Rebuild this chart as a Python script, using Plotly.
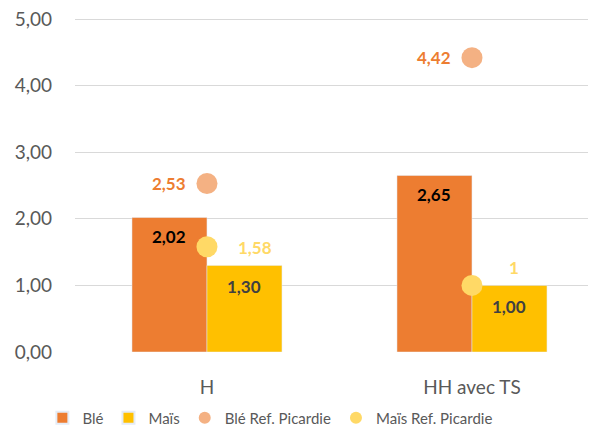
import plotly.graph_objects as go

categories = ["H", "HH avec TS"]
ble = [2.02, 2.65]
mais = [1.30, 1.00]
ble_ref = [2.53, 4.42]
mais_ref = [1.58, 1.00]
mais_ref_labels = ["1,58", "1"]
y_ticks = [0, 1, 2, 3, 4, 5]

C_BLE = "#ED7D31"
C_MAIS = "#FFC000"
C_BLE_REF = "#F4B183"
C_MAIS_REF = "#FFD966"
FONT = "Lato"

x = list(range(len(categories)))
bar_w = 0.283

fig = go.Figure()
fig.add_trace(go.Bar(x=x, y=ble, name="Blé", marker_color=C_BLE, width=bar_w, offset=-bar_w))
fig.add_trace(go.Bar(x=x, y=mais, name="Maïs", marker_color=C_MAIS, width=bar_w, offset=0))
fig.add_trace(go.Scatter(x=x, y=ble_ref, name="Blé Ref. Picardie", mode="markers",
                         marker=dict(color=C_BLE_REF, size=21)))
fig.add_trace(go.Scatter(x=x, y=mais_ref, name="Maïs Ref. Picardie", mode="markers",
                         marker=dict(color=C_MAIS_REF, size=21)))

ann = []
for i in x:
    ann.append(dict(x=i - bar_w / 2, y=ble[i], xref="x", yref="y", text="<b>%s</b>" % f"{ble[i]:.2f}".replace(".", ","),
                    showarrow=False, yanchor="middle", yshift=-19, font=dict(family=FONT, size=17, color="#000000")))
    ann.append(dict(x=i + bar_w / 2, y=mais[i], xref="x", yref="y", text="<b>%s</b>" % f"{mais[i]:.2f}".replace(".", ","),
                    showarrow=False, yanchor="middle", yshift=-21, font=dict(family=FONT, size=17, color="#404040")))
    ann.append(dict(x=i, y=ble_ref[i], xref="x", yref="y", text="<b>%s</b>" % f"{ble_ref[i]:.2f}".replace(".", ","),
                    showarrow=False, xanchor="right", yanchor="middle", xshift=-19,
                    font=dict(family=FONT, size=17, color=C_BLE)))
mais_shift = [(29, -1), (35, 18)]
for i in x:
    dx, dy = mais_shift[i]
    ann.append(dict(x=i, y=mais_ref[i], xref="x", yref="y", text="<b>%s</b>" % mais_ref_labels[i],
                    showarrow=False, xanchor="left", yanchor="middle", xshift=dx, yshift=dy,
                    font=dict(family=FONT, size=17, color=C_MAIS_REF)))

fig.update_layout(
    width=596, height=440,
    margin=dict(l=67, r=8, t=9, b=96),
    plot_bgcolor="white", paper_bgcolor="white",
    separators=",.",
    barmode="overlay",
    font=dict(family=FONT, color="#595959"),
    showlegend=True,
    legend=dict(orientation="h", x=0.375, xanchor="center", y=-0.197, yanchor="middle",
                font=dict(family=FONT, size=15, color="#595959"), itemsizing="constant"),
    annotations=ann,
)
fig.update_xaxes(range=[-0.498, 1.468], tickvals=x, ticktext=categories, showgrid=False,
                 showline=False, zeroline=False, ticks="", tickfont=dict(size=19, color="#595959"),
                 ticklabelstandoff=22, automargin=False)
fig.update_yaxes(range=[0, 5.03], tickvals=y_ticks, tickformat=".2f", showgrid=True, gridcolor="#D9D9D9",
                 gridwidth=1.3, zeroline=False, showline=False, ticks="", tickfont=dict(size=19, color="#595959"),
                 ticklabelstandoff=22, automargin=False, ticklabeloverflow="allow")

fig.write_html("out.html")
